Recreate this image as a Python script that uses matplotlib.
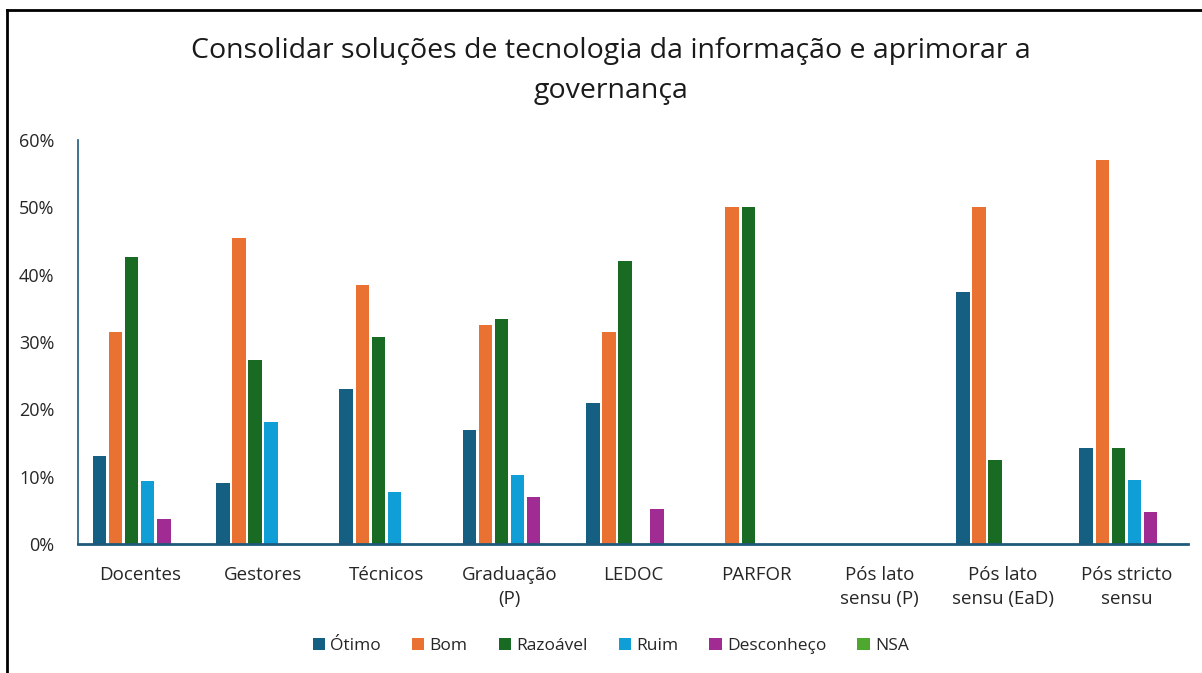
import numpy as np
import matplotlib
matplotlib.use("Agg")
import matplotlib.pyplot as plt
from matplotlib.lines import Line2D
from matplotlib.ticker import PercentFormatter

plt.rcParams["font.family"] = ["Open Sans", "DejaVu Sans"]

# Data (shares, 0-1)
categories = ["Docentes", "Gestores", "Técnicos", "Graduação\n(P)", "LEDOC",
              "PARFOR", "Pós lato\nsensu (P)", "Pós lato\nsensu (EaD)",
              "Pós stricto\nsensu"]
series     = ["Ótimo", "Bom", "Razoável", "Ruim", "Desconheço", "NSA"]

otimo      = [0.130, 0.091, 0.230, 0.169, 0.210, 0.0, 0.0, 0.375, 0.143]
bom        = [0.315, 0.455, 0.385, 0.325, 0.315, 0.5, 0.0, 0.500, 0.571]
razoavel   = [0.426, 0.273, 0.308, 0.334, 0.421, 0.5, 0.0, 0.125, 0.143]
ruim       = [0.093, 0.181, 0.077, 0.103, 0.0,   0.0, 0.0, 0.0,   0.095]
desconheco = [0.037, 0.0,   0.0,   0.070, 0.052, 0.0, 0.0, 0.0,   0.048]
nsa        = [0.0,   0.0,   0.0,   0.0,   0.0,   0.0, 0.0, 0.0,   0.0]

values = [otimo, bom, razoavel, ruim, desconheco, nsa]
colors = ["#156082", "#E97132", "#196B24", "#0F9ED5", "#A02B93", "#4EA72E"]

fig = plt.figure(figsize=(12.02, 6.73), dpi=100)
ax = fig.add_axes([78 / 1202, 1 - 544 / 673, (1188 - 78) / 1202, 404 / 673])

x = np.arange(len(categories))
slot = 0.13
width = 0.11
for i, (name, vals, c) in enumerate(zip(series, values, colors)):
    offs = (i - (len(series) - 1) / 2) * slot
    ax.bar(x + offs, vals, width, color=c, label=name)

ax.set_xlim(-0.5, len(categories) - 0.5)
ax.set_ylim(0, 0.6)
ax.set_yticks(np.arange(0, 0.61, 0.1))
ax.yaxis.set_major_formatter(PercentFormatter(1.0, decimals=0))
ax.set_xticks(x)
ax.set_xticklabels(categories, fontsize=13.5, color="#262626", linespacing=1.4)
ax.tick_params(axis="y", labelsize=13, colors="#262626", length=0, pad=17)
ax.tick_params(axis="x", length=0, pad=16)

for s in ["top", "right"]:
    ax.spines[s].set_visible(False)
ax.spines["left"].set_color("#1F5A7A")
ax.spines["left"].set_linewidth(1.2)
ax.spines["bottom"].set_color("#1F5A7A")
ax.spines["bottom"].set_linewidth(2.0)

fig.text(0.508, 1 - 71 / 673,
         "Consolidar soluções de tecnologia da informação e aprimorar a\ngovernança",
         ha="center", va="center", fontsize=20.5, color="#1a1a1a",
         linespacing=1.55)

leg = fig.legend(loc="center", bbox_to_anchor=(0.508, 1 - 646 / 673), ncol=6,
                 frameon=False, fontsize=12.5, handlelength=0.7, handleheight=0.7,
                 handletextpad=0.3, columnspacing=1.8)
for t in leg.get_texts():
    t.set_color("#262626")

# frame lines of the original screenshot
fig.add_artist(Line2D([6.5 / 1202, 6.5 / 1202], [0, 1 - 10 / 673],
                      color="black", lw=2, transform=fig.transFigure))
fig.add_artist(Line2D([6.5 / 1202, 1], [1 - 10 / 673, 1 - 10 / 673],
                      color="black", lw=2, transform=fig.transFigure))

fig.savefig("out.png", dpi=100)
